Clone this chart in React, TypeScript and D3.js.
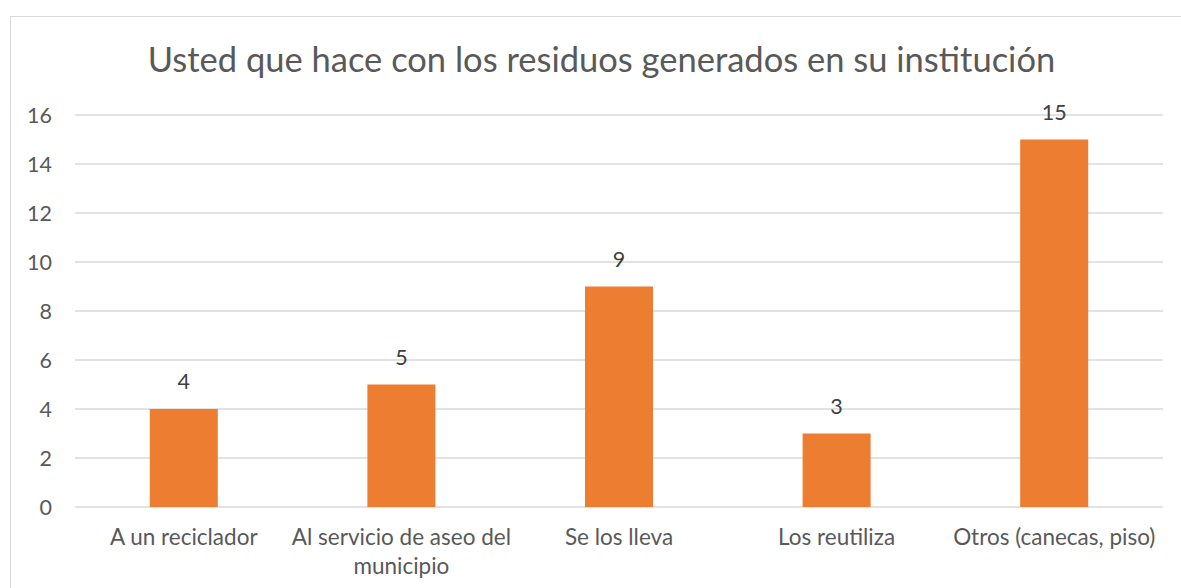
import React from "react";
import * as d3 from "d3";

const categories = [
  "A un reciclador",
  "Al servicio de aseo del municipio",
  "Se los lleva",
  "Los reutiliza",
  "Otros (canecas, piso)",
];
const values = [4, 5, 9, 3, 15];
const yTicks = [0, 2, 4, 6, 8, 10, 12, 14, 16];
const categoryLines: string[][] = [
  ["A un reciclador"],
  ["Al servicio de aseo del", "municipio"],
  ["Se los lleva"],
  ["Los reutiliza"],
  ["Otros (canecas, piso)"],
];
const title = "Usted que hace con los residuos generados en su institución";

const W = 1181;
const H = 588;
const FONT = "Lato, 'Open Sans', sans-serif";
const FS = 21.5;
const FS_CAT = 22.5;

export default function App() {
  const left = 75;
  const right = 1163;
  const top = 115;
  const bottom = 507;

  const x = d3.scaleBand<string>().domain(categories).range([left, right]).paddingInner(0.6875).paddingOuter(0.34375);
  const y = d3.scaleLinear().domain([0, 16]).range([bottom, top]);

  return (
    <svg width={W} height={H} style={{ position: "absolute", left: 0, top: 0, background: "#fff" }}>
      <rect x={10.5} y={16.5} width={W + 10} height={H + 10} fill="#fff" stroke="#d9d9d9" strokeWidth={1} />
      <text x={601.5} y={72} textAnchor="middle" fontFamily={FONT} fontSize={34.5} fill="#595959">
        {title}
      </text>
      {yTicks.map((t) => (
        <g key={t}>
          <line x1={left} x2={right} y1={y(t)} y2={y(t)} stroke="#d9d9d9" strokeWidth={1.3} />
          <text x={52} y={y(t) + 7.5} textAnchor="end" fontFamily={FONT} fontSize={FS} fill="#595959">
            {t}
          </text>
        </g>
      ))}
      {categories.map((c, i) => (
        <g key={c}>
          <rect x={x(c)!} y={y(values[i])} width={x.bandwidth()} height={y(0) - y(values[i])} fill="#ED7D31" />
          <text x={x(c)! + x.bandwidth() / 2} y={y(values[i]) - 20} textAnchor="middle" fontFamily={FONT} fontSize={FS} fill="#404040">
            {values[i]}
          </text>
          {categoryLines[i].map((ln, j) => (
            <text key={j} x={x(c)! + x.bandwidth() / 2} y={545 + j * 29} textAnchor="middle" fontFamily={FONT} fontSize={FS_CAT} fill="#595959">
              {ln}
            </text>
          ))}
        </g>
      ))}
    </svg>
  );
}
